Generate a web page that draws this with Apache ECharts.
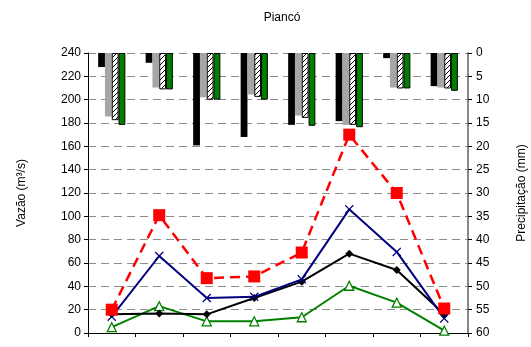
<!DOCTYPE html>
<html>
<head>
<meta charset="utf-8">
<script src="https://cdn.jsdelivr.net/npm/echarts@6/dist/echarts.min.js"></script>
<style>
  html, body { margin: 0; padding: 0; background: #fff; }
  #chart { width: 531px; height: 347px; }
</style>
</head>
<body>
<div id="chart"></div>
<script>
// Periods along the x axis (no labels shown)
const periods = ['1', '2', '3', '4', '5', '6', '7', '8'];

// Tick labels
const flowTicks = [0, 20, 40, 60, 80, 100, 120, 140, 160, 180, 200, 220, 240];
const rainTicks = [0, 5, 10, 15, 20, 25, 30, 35, 40, 45, 50, 55, 60];

// Precipitation (mm), hanging bars
const rainBlack = [3, 2.1, 19.8, 18, 15.4, 14.6, 1.1, 7.1];
const rainGray = [13.6, 7.4, 9.5, 8.9, 13.4, 15.4, 7.4, 7.4];
const rainHatched = [14.4, 7.8, 10, 9.4, 13.9, 15.4, 7.6, 7.6];
const rainGreen = [15.4, 7.8, 10, 10, 15.6, 15.9, 7.6, 8.1];

// Discharge (m³/s)
const flowRed = [20, 101, 47, 48.5, 69, 170, 120, 21];
const flowNavy = [14, 66, 30, 31, 46, 106, 69.5, 12.5];
const flowBlack = [16, 16.8, 16, 30, 44, 68, 54, 16];
const flowGreen = [5, 23, 10, 10, 13.5, 40.5, 26, 2];

// Diagonal hatch fill
function hatchPattern() {
  const c = document.createElement('canvas');
  c.width = 5; c.height = 5;
  const g = c.getContext('2d');
  g.fillStyle = '#fff';
  g.fillRect(0, 0, 5, 5);
  g.strokeStyle = '#000';
  g.lineWidth = 1;
  g.beginPath();
  g.moveTo(-1, 6); g.lineTo(6, -1);
  g.moveTo(-1, 1); g.lineTo(1, -1);
  g.moveTo(4, 6); g.lineTo(6, 4);
  g.stroke();
  return c;
}

const font = 'Liberation Sans, Arial, sans-serif';
const xMark = 'path://M0,1L1,0L5,4L9,0L10,1L6,5L10,9L9,10L5,6L1,10L0,9L4,5Z';

const chart = echarts.init(document.getElementById('chart'), null, { renderer: 'canvas' });

const barBase = { type: 'bar', yAxisIndex: 1, barWidth: 6.8, barGap: '0%', animation: false };

chart.setOption({
  animation: false,
  title: {
    text: 'Piancó',
    left: 277, top: 7, textAlign: 'center',
    textStyle: { fontFamily: font, fontSize: 12, fontWeight: 'normal', color: '#000' }
  },
  grid: { left: 88, right: 63, top: 53, bottom: 14, containLabel: false, outerBoundsMode: 'none' },
  xAxis: {
    type: 'category',
    data: periods,
    boundaryGap: true,
    axisLine: { lineStyle: { color: '#000', width: 1 } },
    axisTick: { show: true, inside: false, length: 4, lineStyle: { color: '#000' } },
    axisLabel: { show: false },
    splitLine: { show: false }
  },
  yAxis: [
    {
      type: 'value', min: 0, max: 240, interval: 20,
      name: 'Vazão (m³/s)', nameLocation: 'middle', nameGap: 60, nameRotate: 90,
      nameTextStyle: { fontFamily: font, fontSize: 12, color: '#000' },
      axisLine: { show: true, lineStyle: { color: '#000', width: 1 } },
      axisTick: { show: true, length: 4, lineStyle: { color: '#000' } },
      axisLabel: { fontFamily: font, fontSize: 12, color: '#000', margin: 7,
        formatter: v => flowTicks.includes(v) ? String(v) : '' },
      splitLine: { show: true, lineStyle: { color: '#8c8c8c', type: [8, 5], width: 1 } }
    },
    {
      type: 'value', min: 0, max: 60, interval: 5, inverse: true, position: 'right',
      name: 'Precipitação (mm)', nameLocation: 'middle', nameGap: 48, nameRotate: 90,
      nameTextStyle: { fontFamily: font, fontSize: 12, color: '#000' },
      axisLine: { show: true, lineStyle: { color: '#888', width: 2 } },
      axisTick: { show: true, length: 4, lineStyle: { color: '#000' } },
      axisLabel: { fontFamily: font, fontSize: 12, color: '#000', margin: 8,
        formatter: v => rainTicks.includes(v) ? String(v) : '' },
      splitLine: { show: false }
    }
  ],
  series: [
    Object.assign({}, barBase, { name: 'P1', data: rainBlack, itemStyle: { color: '#000' } }),
    Object.assign({}, barBase, { name: 'P2', data: rainGray, itemStyle: { color: '#a6a6a6' } }),
    Object.assign({}, barBase, { name: 'P3', data: rainHatched,
      itemStyle: { color: { image: hatchPattern(), repeat: 'repeat' }, borderColor: '#000', borderWidth: 1 } }),
    Object.assign({}, barBase, { name: 'P4', data: rainGreen,
      itemStyle: { color: '#008000', borderColor: '#000', borderWidth: 1 } }),
    {
      name: 'Q4', type: 'line', yAxisIndex: 0, data: flowGreen,
      symbol: 'triangle', symbolSize: 9,
      lineStyle: { color: '#008000', width: 2 },
      itemStyle: { color: '#fff', borderColor: '#008000', borderWidth: 1.3 }
    },
    {
      name: 'Q3', type: 'line', yAxisIndex: 0, data: flowBlack,
      symbol: 'diamond', symbolSize: 8,
      lineStyle: { color: '#000', width: 2 },
      itemStyle: { color: '#000' }
    },
    {
      name: 'Q2', type: 'line', yAxisIndex: 0, data: flowNavy,
      symbol: xMark, symbolSize: 9,
      lineStyle: { color: '#000080', width: 2 },
      itemStyle: { color: '#000080' }
    },
    {
      name: 'Q1', type: 'line', yAxisIndex: 0, data: flowRed,
      symbol: 'rect', symbolSize: 12,
      lineStyle: { color: '#ff0000', width: 2.5, type: [10, 6] },
      itemStyle: { color: '#ff0000' }
    }
  ]
});
</script>
</body>
</html>
